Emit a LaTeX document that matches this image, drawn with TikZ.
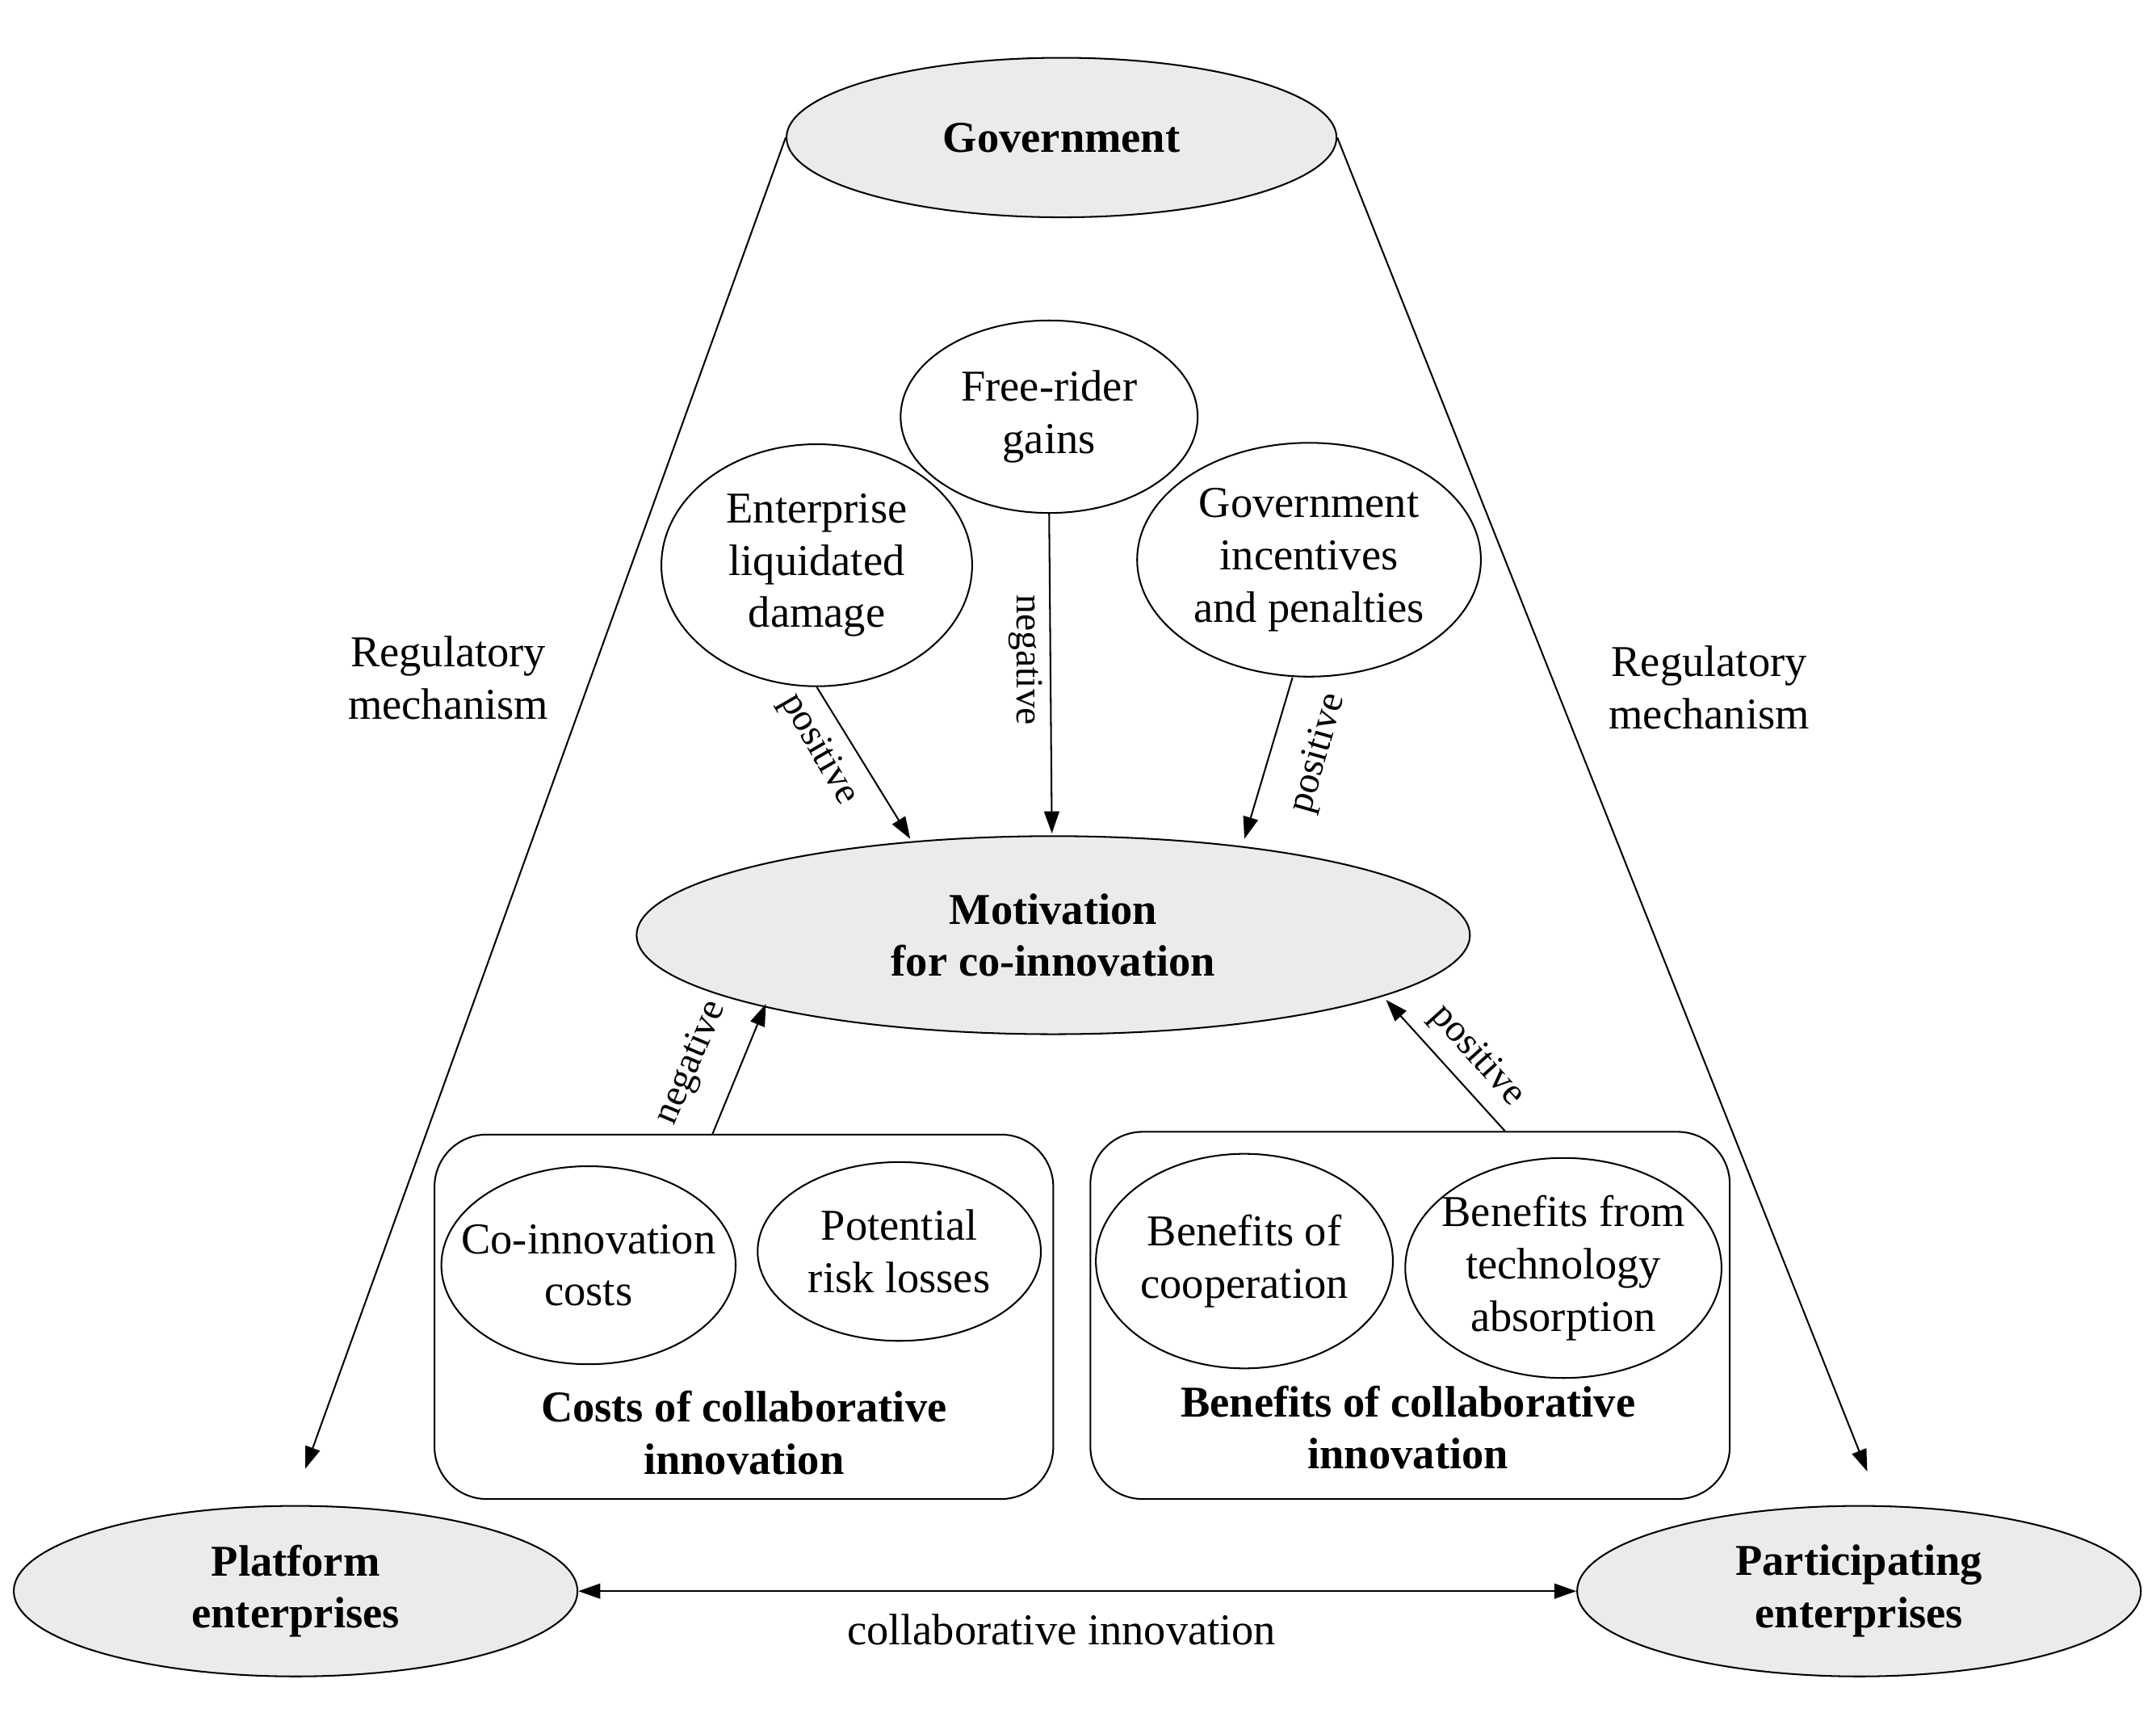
\documentclass[tikz,border=0pt]{standalone}
\usepackage{fontspec}
\setmainfont{Liberation Serif}
\usetikzlibrary{shapes.geometric,arrows.meta}
\begin{document}
\begin{tikzpicture}[x=1pt,y=-1pt,
 every node/.style={font=\fontsize{32}{38}\selectfont,align=center},
 ell/.style={ellipse,draw,line width=1.2pt,inner xsep=-30pt,inner ysep=0pt},
 gray/.style={ell,fill=black!8,font=\fontsize{32}{38}\selectfont\bfseries},
 box/.style={draw,line width=1.2pt,rounded corners=38pt},
 arr/.style={line width=1.2pt,-{Triangle[length=16pt,width=11pt]}},
 lab/.style={font=\fontsize{28}{30}\selectfont}]
\useasboundingbox (0,0) rectangle (1568,1248);
\node[gray,minimum width=400pt,minimum height=116pt] (gov) at (772,100) {Government};
\node[gray,minimum width=410pt,minimum height=124pt] (plat) at (215,1157) {Platform\\enterprises};
\node[gray,minimum width=410pt,minimum height=124pt] (part) at (1352,1157) {Participating\\enterprises};
\node[gray,minimum width=606pt,minimum height=144pt] (mot) at (766,680) {Motivation\\for co-innovation};
\node[ell,minimum width=216pt,minimum height=140pt] (free) at (763,303) {Free-rider\\gains};
\node[ell,minimum width=226pt,minimum height=176pt] (ent) at (594,411) {Enterprise\\liquidated\\damage};
\node[ell,minimum width=250pt,minimum height=170pt] (ginc) at (952,407) {Government\\incentives\\and penalties};
\draw[box] (316,825) rectangle (766,1090);
\draw[box] (793,823) rectangle (1258,1090);
\coordinate (costs) at (518,825);
\coordinate (bens) at (1095,823);
\node[ell,minimum width=214pt,minimum height=144pt] (coc) at (428,920) {Co-innovation\\costs};
\node[ell,minimum width=206pt,minimum height=130pt] (prl) at (654,910) {Potential\\risk losses};
\node[ell,minimum width=216pt,minimum height=156pt] (boc) at (905,917) {Benefits of\\cooperation};
\node[ell,minimum width=230pt,minimum height=160pt] (bft) at (1137,922) {Benefits from\\technology\\absorption};
\node[font=\fontsize{32}{38}\selectfont\bfseries] (ct) at (541,1042) {Costs of collaborative\\innovation};
\node[font=\fontsize{32}{38}\selectfont\bfseries] (bt) at (1024,1038) {Benefits of collaborative\\innovation};
\node (rl) at (326,493) {Regulatory\\mechanism};
\node (rr) at (1243,500) {Regulatory\\mechanism};
\coordinate (pt) at (222,1068);
\coordinate (qt) at (1358,1070);
\draw[arr] (gov.west) -- (pt);
\draw[arr] (gov.east) -- (qt);
\draw[line width=1.2pt,{Triangle[length=16pt,width=11pt]}-{Triangle[length=16pt,width=11pt]}] (plat.east) -- (part.west);
\node (ci) at (772,1185) {collaborative innovation};
\coordinate (m1) at (662,610);
\coordinate (m2) at (765,606);
\coordinate (m3) at (905,610);
\coordinate (m4) at (557,730);
\coordinate (m5) at (1008,727);
\draw[arr] (ent.south) -- (m1);
\draw[arr] (free.south) -- (m2);
\draw[arr] (ginc.south) ++(-12,0) coordinate (gs) -- (m3);
\draw[arr] (costs) -- (m4);
\draw[arr] (bens) -- (m5);
\node[lab,rotate=-60] at (595,545) {positive};
\node[lab,rotate=-90] at (746,480) {negative};
\node[lab,rotate=74] at (959,548) {positive};
\node[lab,rotate=67] at (503,773) {negative};
\node[lab,rotate=-48] at (1074,768) {positive};
\end{tikzpicture}
\end{document}
